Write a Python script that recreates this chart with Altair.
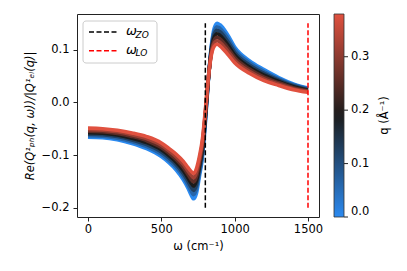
import altair as alt
import pandas as pd

# ---------------- data ----------------
omega = [0, 100, 200, 300, 400, 500, 550, 600, 650, 680, 700, 720, 740, 760,
         780, 800, 820, 840, 860, 880, 900, 950, 1000, 1100, 1200, 1300, 1400, 1500]

q_values = [0.0, 0.0633, 0.1267, 0.19, 0.2533, 0.3167, 0.38]

curve_q0 = [-0.066, -0.067, -0.071, -0.078, -0.088, -0.103, -0.114, -0.128, -0.147, -0.162,
            -0.174, -0.183, -0.172, -0.140, -0.105, -0.040, 0.040, 0.105, 0.140, 0.150,
            0.147, 0.129, 0.105, 0.079, 0.062, 0.047, 0.035, 0.027]
curve_q1 = [-0.0632, -0.0642, -0.068, -0.0747, -0.0842, -0.0987, -0.1095, -0.123, -0.1412, -0.1555,
            -0.1667, -0.175, -0.1642, -0.1337, -0.0992, -0.0358, 0.0408, 0.1022, 0.1343, 0.1433,
            0.1403, 0.1228, 0.100, 0.075, 0.0585, 0.0445, 0.0332, 0.0257]
curve_q2 = [-0.0603, -0.0613, -0.065, -0.0713, -0.0803, -0.0943, -0.105, -0.118, -0.1353, -0.149,
            -0.1593, -0.167, -0.1563, -0.1273, -0.0933, -0.0317, 0.0417, 0.0993, 0.1287, 0.1367,
            0.1337, 0.1167, 0.095, 0.071, 0.055, 0.042, 0.0313, 0.0243]
curve_q3 = [-0.0575, -0.0585, -0.062, -0.068, -0.0765, -0.090, -0.1005, -0.113, -0.1295, -0.1425,
            -0.152, -0.159, -0.1485, -0.121, -0.0875, -0.0275, 0.0425, 0.0965, 0.123, 0.130,
            0.127, 0.1105, 0.090, 0.067, 0.0515, 0.0395, 0.0295, 0.023]
curve_q4 = [-0.0547, -0.0557, -0.059, -0.0647, -0.0727, -0.0857, -0.096, -0.108, -0.1237, -0.136,
            -0.1447, -0.151, -0.1407, -0.1147, -0.0817, -0.0233, 0.0433, 0.0937, 0.1173, 0.1233,
            0.1203, 0.1043, 0.085, 0.063, 0.048, 0.037, 0.0277, 0.0217]
curve_q5 = [-0.0518, -0.0528, -0.056, -0.0613, -0.0688, -0.0813, -0.0915, -0.103, -0.1178, -0.1295,
            -0.1373, -0.143, -0.1328, -0.1083, -0.0758, -0.0192, 0.0442, 0.0908, 0.1117, 0.1167,
            0.1137, 0.0982, 0.080, 0.059, 0.0445, 0.0345, 0.0258, 0.0203]
curve_q6 = [-0.049, -0.050, -0.053, -0.058, -0.065, -0.077, -0.087, -0.098, -0.112, -0.123,
            -0.130, -0.135, -0.125, -0.102, -0.070, -0.015, 0.045, 0.088, 0.106, 0.110,
            0.107, 0.092, 0.075, 0.055, 0.041, 0.032, 0.024, 0.019]

curves = [curve_q0, curve_q1, curve_q2, curve_q3, curve_q4, curve_q5, curve_q6]

vline_names = ["ZO", "LO"]
vline_omega = [800, 1500]
vline_colors = ["#000000", "#ff0000"]
vline_ymin = -0.2
vline_ymax = 0.15

x_ticks = [0, 500, 1000, 1500]
y_ticks = [-0.2, -0.1, 0.0, 0.1]
cbar_ticks = [0.0, 0.1, 0.2, 0.3]
q_max = 0.38

# ---------------- build tables ----------------
rows = []
for q, vals in zip(q_values, curves):
    for w, v in zip(omega, vals):
        rows.append({"omega": w, "val": v, "q": q})
df = pd.DataFrame(rows)

vdf = pd.DataFrame({"name": vline_names, "omega": vline_omega, "color": vline_colors,
                    "y1": [vline_ymin] * 2, "y2": [vline_ymax] * 2})
cdf = pd.DataFrame({"t": cbar_ticks})

FONT = "DejaVu Sans"
x_scale = alt.Scale(domain=[-75, 1575], nice=False, zero=False)
y_scale = alt.Scale(domain=[-0.2175, 0.1675], nice=False, zero=False)
color_scale = alt.Scale(domain=[0, q_max / 2, q_max],
                        range=["#2b8af0", "#1b1b1b", "#e0513f"], interpolate="rgb")

lines = alt.Chart(df).mark_line(strokeWidth=3.6, interpolate="monotone").encode(
    x=alt.X("omega:Q", scale=x_scale,
            axis=alt.Axis(values=x_ticks, format="d", title="ω (cm⁻¹)", labelPadding=2, titlePadding=6)),
    y=alt.Y("val:Q", scale=y_scale,
            axis=alt.Axis(values=y_ticks, format=".1f", title="Re(Q¹ₚₕ(q, ω))/|Q¹ₑₗ(q)|",
                          titleFontStyle="italic", labelPadding=4, titlePadding=6)),
    color=alt.Color("q:Q", scale=color_scale,
                    legend=alt.Legend(orient="none", legendX=257, legendY=0, direction="vertical",
                                      gradientLength=203, gradientThickness=10, title=None,
                                      values=cbar_ticks, format=".1f", labelOffset=7,
                                      labelFontSize=11.5, labelFont=FONT, labelColor="#000",
                                      gradientStrokeColor="#333", gradientStrokeWidth=0.8,
                                      padding=0)),
    detail="q:Q",
)

vlines = alt.Chart(vdf).mark_rule(strokeWidth=1.5, strokeDash=[5, 2.5]).encode(
    x=alt.X("omega:Q", scale=x_scale),
    y=alt.Y("y1:Q", scale=y_scale),
    y2="y2:Q",
    stroke=alt.Stroke("color:N", scale=None),
)

one = pd.DataFrame({"a": [0]})
leg_box = alt.Chart(one).mark_rect(fill="white", fillOpacity=0.8, stroke="#cccccc",
                                   strokeWidth=1, cornerRadius=3).encode(
    x=alt.value(6), x2=alt.value(80), y=alt.value(7), y2=alt.value(49))

leg_parts = []
for i, (nm, col) in enumerate(zip(vline_names, vline_colors)):
    yy = 18 + i * 18.7
    ldf = pd.DataFrame({"a": [0]})
    leg_parts.append(alt.Chart(ldf).mark_rule(stroke=col, strokeWidth=1.5, strokeDash=[5, 2.5]).encode(
        x=alt.value(12), x2=alt.value(40), y=alt.value(yy)))
    leg_parts.append(alt.Chart(ldf).mark_text(text="ω", fontSize=13, fontStyle="italic", font=FONT,
                                              align="left", baseline="middle", color="black").encode(
        x=alt.value(49), y=alt.value(yy - 1)))
    leg_parts.append(alt.Chart(ldf).mark_text(text=nm, fontSize=9, fontStyle="italic", font=FONT,
                                              align="left", baseline="middle", color="black").encode(
        x=alt.value(58.5), y=alt.value(yy + 2.5)))

cbar_title = alt.Chart(one).mark_text(text="q (Å⁻¹)", fontSize=11.5, font=FONT, angle=270,
                                      align="center", baseline="middle", color="black").encode(
    x=alt.value(308), y=alt.value(101.5))

cbar_ticks_layer = alt.Chart(cdf).mark_rule(stroke="#222", strokeWidth=1).encode(
    x=alt.value(267), x2=alt.value(271),
    y=alt.Y("t:Q", scale=alt.Scale(domain=[0, q_max], range=[203, 0], nice=False, zero=False), axis=None),
)

main = alt.layer(lines, vlines, leg_box, *leg_parts, cbar_title)
chart = alt.layer(main, cbar_ticks_layer).resolve_scale(y="independent").properties(
    width=242, height=203,
    padding={"left": 69, "top": 6, "right": 80, "bottom": 46},
    autosize=alt.AutoSizeParams(type="none"),
).configure_view(stroke="#222222", strokeWidth=1).configure_axis(
    grid=False, domain=False, tickColor="#222", tickSize=4, labelFont=FONT, titleFont=FONT,
    labelFontSize=11.5, titleFontSize=11.5, labelColor="#000", titleColor="#000",
    titleFontWeight="normal",
)

chart.save("out.html", embed_options={"renderer": "svg", "actions": False})
